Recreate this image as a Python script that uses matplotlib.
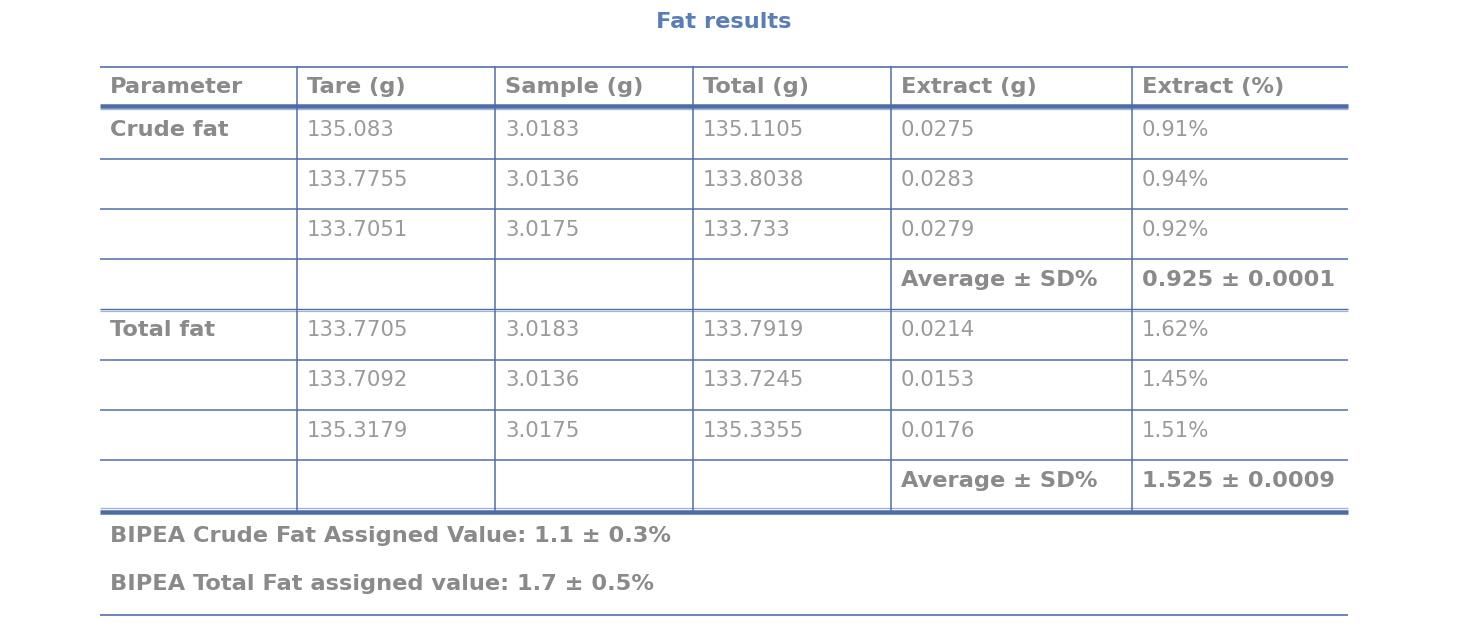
import matplotlib
matplotlib.use("Agg")
import matplotlib.pyplot as plt

# ---- data ----
title = "Fat results"
columns = ["Parameter", "Tare (g)", "Sample (g)", "Total (g)", "Extract (g)", "Extract (%)"]
params = ["Crude fat", "", "", "", "Total fat", "", "", ""]
tare = [135.083, 133.7755, 133.7051, None, 133.7705, 133.7092, 135.3179, None]
sample = [3.0183, 3.0136, 3.0175, None, 3.0183, 3.0136, 3.0175, None]
total = [135.1105, 133.8038, 133.733, None, 133.7919, 133.7245, 135.3355, None]
extract_g = [0.0275, 0.0283, 0.0279, None, 0.0214, 0.0153, 0.0176, None]
extract_pct = [0.91, 0.94, 0.92, None, 1.62, 1.45, 1.51, None]
avg_label = "Average ± SD%"
avg_values = ["0.925 ± 0.0001", "1.525 ± 0.0009"]
footnotes = ["BIPEA Crude Fat Assigned Value: 1.1 ± 0.3%",
             "BIPEA Total Fat assigned value: 1.7 ± 0.5%"]

# ---- layout (pixels) ----
W, H = 1472, 626
col_edges = [100, 297, 495, 693, 891, 1132, 1348]
header_top, header_bot = 67, 109
row_h = 50.1
n_rows = len(params)
pad = 10

LINE = "#4d6ba8"
LINE_LIGHT = "#9fb2d6"
TITLE_C = "#5b7db6"
BOLD_C = "#8a8a8a"
REG_C = "#9a9a9a"
FONT = ["DejaVu Sans"]
BOLD_FS = 16.2
REG_FS = 15.3

fig = plt.figure(figsize=(W / 100, H / 100), dpi=100)
ax = fig.add_axes([0, 0, 1, 1])
ax.set_xlim(0, W)
ax.set_ylim(H, 0)
ax.axis("off")

px = 0.72  # points per pixel

def hline(y, lw, color=LINE):
    ax.plot([col_edges[0], col_edges[-1]], [y, y], color=color, lw=lw * px,
            solid_capstyle="butt")

ax.text(724, 22, title, ha="center", va="center", fontsize=16.2,
        fontweight="bold", color=TITLE_C, family=FONT)

# header
hline(header_top, 1.6)
for i, c in enumerate(columns):
    ax.text(col_edges[i] + pad, 87, c, ha="left", va="center", fontsize=BOLD_FS,
            fontweight="bold", color=BOLD_C, family=FONT)
hline(105.5, 4.5)
hline(109, 1.3, LINE_LIGHT)

# rows
def fmt(v, pct=False):
    if v is None:
        return ""
    return f"{v}%" if pct else str(v)

row_tops = [header_bot + i * row_h for i in range(n_rows)]
avg_i = 0
for r in range(n_rows):
    top = row_tops[r]
    yc = top + 21
    if params[r]:
        ax.text(col_edges[0] + pad, yc, params[r], ha="left", va="center",
                fontsize=BOLD_FS, fontweight="bold", color=BOLD_C, family=FONT)
    cells = [fmt(tare[r]), fmt(sample[r]), fmt(total[r]), fmt(extract_g[r]),
             fmt(extract_pct[r], True)]
    if tare[r] is None:
        ax.text(col_edges[4] + pad, yc, avg_label, ha="left", va="center",
                fontsize=BOLD_FS, fontweight="bold", color=BOLD_C, family=FONT)
        ax.text(col_edges[5] + pad, yc, avg_values[avg_i], ha="left", va="center",
                fontsize=BOLD_FS, fontweight="bold", color=BOLD_C, family=FONT)
        avg_i += 1
    else:
        for j, s in enumerate(cells):
            ax.text(col_edges[j + 1] + pad, yc, s, ha="left", va="center",
                    fontsize=REG_FS, color=REG_C, family=FONT)
    if r < n_rows - 1:
        y = top + row_h
        if r == 3:
            hline(y, 1.4)
            hline(y + 1.8, 1.2, LINE_LIGHT)
        else:
            hline(y, 1.5)

table_bot = header_bot + n_rows * row_h
hline(table_bot - 1.5, 1.3, LINE_LIGHT)
hline(table_bot + 2.5, 4.5)

for x in col_edges[1:-1]:
    ax.plot([x, x], [header_top, table_bot], color=LINE, lw=1.5 * px)

# footnotes
for k, t in enumerate(footnotes):
    ax.text(col_edges[0] + pad, 536 + 48 * k, t, ha="left", va="center",
            fontsize=BOLD_FS, fontweight="bold", color=BOLD_C, family=FONT)
hline(615, 1.6)

fig.savefig("out.png", dpi=100, facecolor="white")
